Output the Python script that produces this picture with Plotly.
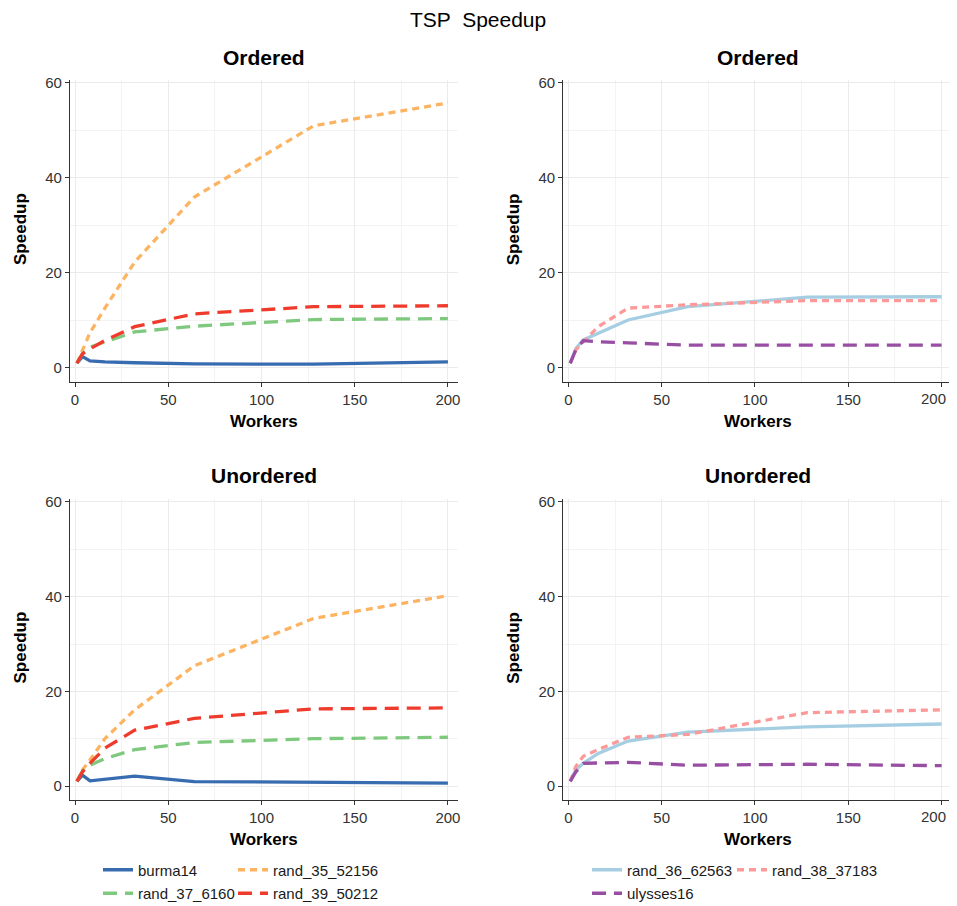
import plotly.graph_objects as go

# the page body has an 8px margin, so the figure is drawn 8px shorter/narrower
OFF = 8
W, H = 957 - OFF, 906 - OFF

workers = [1, 4, 8, 16, 32, 64, 128, 200]

# Ordered
ord_burma14 = [1.0, 2.4, 1.5, 1.3, 1.1, 0.85, 0.8, 1.3]
ord_rand_35_52156 = [1.0, 3.8, 7.4, 12.6, 22.3, 36.0, 51.0, 55.8]
ord_rand_37_6160 = [1.0, 3.0, 4.4, 5.5, 7.6, 8.8, 10.2, 10.4]
ord_rand_39_50212 = [1.0, 3.0, 4.0, 5.8, 8.7, 11.4, 12.9, 13.1]
ord_rand_36_62563 = [1.0, 4.1, 5.9, 7.3, 10.1, 12.9, 14.9, 15.0]
ord_rand_38_37183 = [1.0, 3.8, 5.5, 8.7, 12.6, 13.3, 14.2, 14.2]
ord_ulysses16 = [1.0, 3.8, 5.75, 5.5, 5.3, 4.8, 4.8, 4.8]

# Unordered
un_burma14 = [1.0, 2.3, 1.1, 1.4, 2.1, 0.95, 0.85, 0.6]
un_rand_35_52156 = [1.0, 3.4, 5.5, 10.0, 16.1, 25.4, 35.4, 40.2]
un_rand_37_6160 = [1.0, 3.2, 4.4, 5.8, 7.7, 9.2, 10.0, 10.3]
un_rand_39_50212 = [1.0, 3.0, 4.8, 8.0, 11.8, 14.3, 16.3, 16.5]
un_rand_36_62563 = [1.0, 3.4, 4.8, 6.9, 9.5, 11.4, 12.5, 13.1]
un_rand_38_37183 = [1.0, 4.1, 6.3, 7.7, 10.3, 10.9, 15.5, 16.1]
un_ulysses16 = [1.0, 3.0, 4.8, 4.9, 5.0, 4.4, 4.6, 4.3]

x_ticks = [0, 50, 100, 150, 200]
x_ticktext = ["0", "50", "100", "150", "200"]
y_ticks = [0, 20, 40, 60]
panel_titles = ["Ordered", "Ordered", "Unordered", "Unordered"]

FONT = "Liberation Sans, Arial, sans-serif"

styles = {
    "burma14": dict(color="#386cb0", dash="solid"),
    "rand_35_52156": dict(color="#fdb462", dash="7px,5px"),
    "rand_37_6160": dict(color="#7fc97f", dash="14px,8px"),
    "rand_39_50212": dict(color="#ef3b2c", dash="14px,8px"),
    "rand_36_62563": dict(color="#a6cee3", dash="solid"),
    "rand_38_37183": dict(color="#fb9a99", dash="7px,5px"),
    "ulysses16": dict(color="#984ea3", dash="14px,8px"),
}
legend_of = {
    "burma14": "legend", "rand_37_6160": "legend",
    "rand_35_52156": "legend2", "rand_39_50212": "legend2",
    "rand_36_62563": "legend3", "ulysses16": "legend3",
    "rand_38_37183": "legend4",
}

panels = [
    ("x", "y", [("burma14", ord_burma14), ("rand_35_52156", ord_rand_35_52156),
                ("rand_37_6160", ord_rand_37_6160), ("rand_39_50212", ord_rand_39_50212)], True),
    ("x2", "y2", [("rand_36_62563", ord_rand_36_62563), ("rand_38_37183", ord_rand_38_37183),
                  ("ulysses16", ord_ulysses16)], True),
    ("x3", "y3", [("burma14", un_burma14), ("rand_35_52156", un_rand_35_52156),
                  ("rand_37_6160", un_rand_37_6160), ("rand_39_50212", un_rand_39_50212)], False),
    ("x4", "y4", [("rand_36_62563", un_rand_36_62563), ("rand_38_37183", un_rand_38_37183),
                  ("ulysses16", un_ulysses16)], False),
]

fig = go.Figure()
for xa, ya, series, show in panels:
    for name, vals in series:
        st = styles[name]
        fig.add_trace(go.Scatter(
            x=workers, y=vals, mode="lines", name=name,
            line=dict(color=st["color"], dash=st["dash"], width=3.3),
            xaxis=xa, yaxis=ya, legendgroup=name, showlegend=show,
            legend=legend_of[name],
        ))

# panel pixel geometry (page pixels of the reference)
xdom_px = [(70.0, 458.0), (563.3, 951.7)]
ydom_px = [(80.0, 382.0), (499.0, 800.0)]


def px_x(p):
    return (p - OFF) / W


def px_y(p):
    return 1 - (p - OFF) / H


def xd(p):
    return [px_x(p[0]), px_x(p[1])]


def yd(p):
    return [px_y(p[1]), px_y(p[0])]


TICKFONT = dict(family=FONT, size=15, color="#333333")
axis_common = dict(
    showline=True, linecolor="#333333", linewidth=1.3,
    ticks="outside", ticklen=4, tickcolor="#333333", tickwidth=1,
    tickfont=TICKFONT,
    showgrid=True, gridcolor="#ebebeb", gridwidth=1.2,
    zeroline=False, automargin=False, fixedrange=True,
)

annotations = []
layout_axes = {}
for i, (ci, ri) in enumerate([(0, 0), (1, 0), (0, 1), (1, 1)]):
    suf = "" if i == 0 else str(i + 1)
    labels = list(x_ticktext)
    if ci == 1:
        # the last label sits at the very right edge of the window: draw it
        # right-aligned so that it is not clipped
        labels[-1] = ""
        annotations.append(dict(text=x_ticktext[-1], x=x_ticks[-1], y=px_y(ydom_px[ri][1] + 16.5),
                                xref="x" + suf, yref="paper", showarrow=False,
                                font=TICKFONT, xanchor="right", yanchor="middle",
                                xshift=6))
    layout_axes["xaxis" + suf] = dict(
        axis_common, domain=xd(xdom_px[ci]), anchor="y" + suf,
        range=[-2.7, 205.4], tickvals=x_ticks, ticktext=labels,
        minor=dict(tickvals=[25, 75, 125, 175], showgrid=True, gridcolor="#f3f3f3", gridwidth=1, ticks=""),
    )
    layout_axes["yaxis" + suf] = dict(
        axis_common, domain=yd(ydom_px[ri]), anchor="x" + suf,
        range=[-2.95, 60.63], tickvals=y_ticks,
        minor=dict(tickvals=[10, 30, 50], showgrid=True, gridcolor="#f3f3f3", gridwidth=1, ticks=""),
    )

annotations.append(dict(text="TSP  Speedup", x=px_x(478), y=px_y(20), xref="paper", yref="paper",
                        showarrow=False, font=dict(family=FONT, size=21, color="black"),
                        xanchor="center", yanchor="middle"))
for i, (ci, ri) in enumerate([(0, 0), (1, 0), (0, 1), (1, 1)]):
    cxp = (xdom_px[ci][0] + xdom_px[ci][1]) / 2
    top = ydom_px[ri][0]
    bot = ydom_px[ri][1]
    annotations.append(dict(text="<b>" + panel_titles[i] + "</b>", x=px_x(cxp), y=px_y(top - 23),
                            xref="paper", yref="paper", showarrow=False,
                            font=dict(family=FONT, size=21, color="black"),
                            xanchor="center", yanchor="middle"))
    annotations.append(dict(text="<b>Workers</b>", x=px_x(cxp), y=px_y(bot + 39),
                            xref="paper", yref="paper", showarrow=False,
                            font=dict(family=FONT, size=17, color="black"),
                            xanchor="center", yanchor="middle"))
    annotations.append(dict(text="<b>Speedup</b>", x=px_x(xdom_px[ci][0] - 50),
                            y=px_y((top + bot) / 2 - 2),
                            xref="paper", yref="paper", showarrow=False, textangle=-90,
                            font=dict(family=FONT, size=17, color="black"),
                            xanchor="center", yanchor="middle"))

leg_common = dict(orientation="v", yanchor="top", xanchor="left", y=px_y(853.5),
                  font=dict(family=FONT, size=15, color="#1a1a1a"),
                  bgcolor="rgba(0,0,0,0)", borderwidth=0, tracegroupgap=1, itemwidth=30)

fig.update_layout(
    width=W, height=H,
    margin=dict(l=0, r=0, t=0, b=0, autoexpand=False),
    paper_bgcolor="white", plot_bgcolor="white",
    font=dict(family=FONT, color="#333333"),
    annotations=annotations,
    legend=dict(leg_common, x=px_x(98)),
    legend2=dict(leg_common, x=px_x(233)),
    legend3=dict(leg_common, x=px_x(587)),
    legend4=dict(leg_common, x=px_x(732)),
    **layout_axes,
)

fig.write_html("out.html")
